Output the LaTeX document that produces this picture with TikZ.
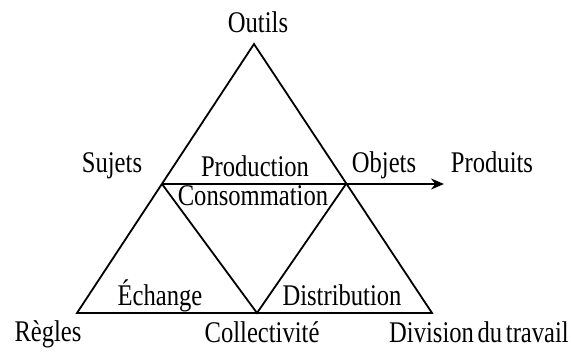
\documentclass[tikz,border=0pt]{standalone}
\usepackage{fontspec}
\setmainfont{Liberation Serif}[FakeStretch=0.82,WordSpace=0.6]
\usetikzlibrary{arrows.meta}

\tikzset{
  lbl/.style={font=\fontsize{30}{35}\selectfont, inner sep=0pt, anchor=base},
  side/.style={line width=1.8pt, line join=miter}
}

\begin{document}
\begin{tikzpicture}[x=1pt,y=-1pt]
  \useasboundingbox (0,0) rectangle (571,352);

  % corners of the big triangle
  \coordinate (top) at (254,44);
  \coordinate (bl) at (77,313);
  \coordinate (br) at (432,313);
  % inner points
  \coordinate (ml) at (162,184);
  \coordinate (mr) at (346,184);
  \coordinate (bm) at (257,313);
  \coordinate (tip) at (444,184);

  \draw[side] (top) -- (bl) -- (br) -- cycle;
  \draw[side] (ml) -- (bm) -- (mr);
  \draw[side,-{Stealth[length=13pt,width=11pt]}] (ml) -- (tip);

  \node[lbl] (outils) at (258,33) {Outils};
  \node[lbl] (sujets) at (112,173) {Sujets};
  \node[lbl] (objets) at (384,173) {Objets};
  \node[lbl] (produits) at (492,173) {Produits};
  \node[lbl] (prod) at (255,177) {Production};
  \node[lbl] (conso) at (253,206) {Consommation};
  \node[lbl] (echange) at (160,306) {Échange};
  \node[lbl] (distrib) at (342,306) {Distribution};
  \node[lbl] (regles) at (48,342) {Règles};
  \node[lbl] (collect) at (262,343) {Collectivité};
  \node[lbl] (division) at (479,343) {Division du travail};
\end{tikzpicture}
\end{document}
